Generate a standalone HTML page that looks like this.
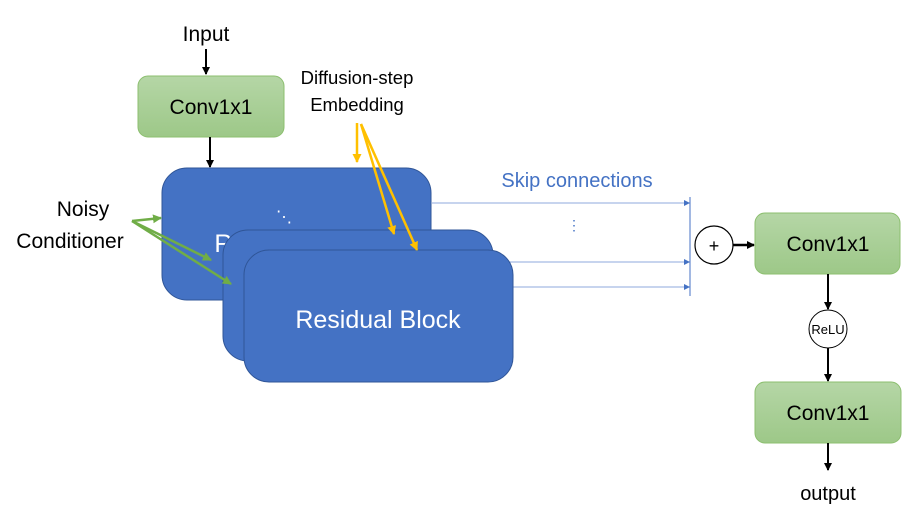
<!DOCTYPE html>
<html><head><style>body{margin:0;background:#fff}svg{display:block}text{font-family:"Liberation Sans",sans-serif}</style></head>
<body>
<svg width="918" height="531" viewBox="0 0 918 531" xmlns="http://www.w3.org/2000/svg">
<defs>
<linearGradient id="g" x1="0" y1="0" x2="0" y2="1"><stop offset="0" stop-color="#b5d6a6"/><stop offset="1" stop-color="#9dc888"/></linearGradient>
<marker id="ak" markerWidth="8" markerHeight="8" refX="7" refY="4" orient="auto" markerUnits="userSpaceOnUse"><path d="M0,0 L8,4 L0,8z" fill="#000"/></marker>
<marker id="ay" markerWidth="9" markerHeight="9" refX="8" refY="4.5" orient="auto" markerUnits="userSpaceOnUse"><path d="M0,0 L9,4.5 L0,9z" fill="#ffc000"/></marker>
<marker id="ag" markerWidth="9" markerHeight="9" refX="8" refY="4.5" orient="auto" markerUnits="userSpaceOnUse"><path d="M0,0 L9,4.5 L0,9z" fill="#70ad47"/></marker>
<marker id="ab" markerWidth="6" markerHeight="6" refX="6" refY="3" orient="auto" markerUnits="userSpaceOnUse"><path d="M0,0 L6,3 L0,6z" fill="#4472c4"/></marker>
</defs>
<text x="206" y="41" font-size="21" text-anchor="middle">Input</text>
<line x1="206" y1="49" x2="206" y2="74" stroke="#000" stroke-width="2" marker-end="url(#ak)"/>
<rect x="138" y="76" width="146" height="61" rx="10" fill="url(#g)" stroke="#8cbf6f"/>
<text x="211" y="114" font-size="21" text-anchor="middle">Conv1x1</text>
<line x1="210" y1="137" x2="210" y2="167" stroke="#000" stroke-width="2" marker-end="url(#ak)"/>
<text x="357" y="84" font-size="18.5" text-anchor="middle">Diffusion-step</text>
<text x="357" y="111" font-size="18.5" text-anchor="middle">Embedding</text>
<text x="83" y="216" font-size="21" text-anchor="middle">Noisy</text>
<text x="70" y="248" font-size="21" text-anchor="middle">Conditioner</text>
<line x1="432" y1="203" x2="690" y2="203" stroke="#8faadc" stroke-width="1" marker-end="url(#ab)"/>
<line x1="493" y1="262" x2="690" y2="262" stroke="#8faadc" stroke-width="1" marker-end="url(#ab)"/>
<line x1="513" y1="287" x2="690" y2="287" stroke="#8faadc" stroke-width="1" marker-end="url(#ab)"/>
<line x1="690" y1="197" x2="690" y2="296" stroke="#4472c4" stroke-width="1"/>
<text x="574" y="230" font-size="14" fill="#4472c4" text-anchor="middle">⋮</text>
<text x="577" y="187" font-size="20" fill="#4472c4" text-anchor="middle">Skip connections</text>
<rect x="162" y="168" width="269" height="132" rx="25" fill="#4472c4" stroke="#2f5597"/>
<text x="297" y="252" font-size="25" fill="#fff" text-anchor="middle">Residual Block</text>
<text x="284" y="222" font-size="16" fill="#fff" text-anchor="middle">⋱</text>
<rect x="223" y="230" width="270" height="131" rx="25" fill="#4472c4" stroke="#2f5597"/>
<rect x="244" y="250" width="269" height="132" rx="25" fill="#4472c4" stroke="#2f5597"/>
<text x="378" y="328" font-size="25" fill="#fff" text-anchor="middle">Residual Block</text>
<g stroke="#70ad47" stroke-width="2.5" fill="none">
<line x1="132" y1="221" x2="161" y2="218" marker-end="url(#ag)"/>
<line x1="132" y1="221" x2="211" y2="260" marker-end="url(#ag)"/>
<line x1="132" y1="221" x2="231" y2="284" marker-end="url(#ag)"/>
</g>
<g stroke="#ffc000" stroke-width="2.5" fill="none">
<line x1="357" y1="123" x2="357" y2="162" marker-end="url(#ay)"/>
<line x1="361" y1="124" x2="394" y2="234" marker-end="url(#ay)"/>
<line x1="361" y1="124" x2="417" y2="250" marker-end="url(#ay)"/>
</g>
<circle cx="714" cy="245" r="19" fill="#fff" stroke="#000" stroke-width="1.2"/>
<text x="714" y="252" font-size="18" text-anchor="middle">+</text>
<line x1="733" y1="245" x2="754" y2="245" stroke="#000" stroke-width="2.5" marker-end="url(#ak)"/>
<rect x="755" y="213" width="145" height="61" rx="10" fill="url(#g)" stroke="#8cbf6f"/>
<text x="828" y="251" font-size="21" text-anchor="middle">Conv1x1</text>
<line x1="828" y1="274" x2="828" y2="309" stroke="#000" stroke-width="2" marker-end="url(#ak)"/>
<circle cx="828" cy="329" r="19" fill="#fff" stroke="#000" stroke-width="1"/>
<text x="828" y="334" font-size="13" text-anchor="middle">ReLU</text>
<line x1="828" y1="348" x2="828" y2="381" stroke="#000" stroke-width="2" marker-end="url(#ak)"/>
<rect x="755" y="382" width="146" height="61" rx="10" fill="url(#g)" stroke="#8cbf6f"/>
<text x="828" y="420" font-size="21" text-anchor="middle">Conv1x1</text>
<line x1="828" y1="443" x2="828" y2="470" stroke="#000" stroke-width="2" marker-end="url(#ak)"/>
<text x="828" y="500" font-size="20" text-anchor="middle">output</text>
</svg>
</body></html>
